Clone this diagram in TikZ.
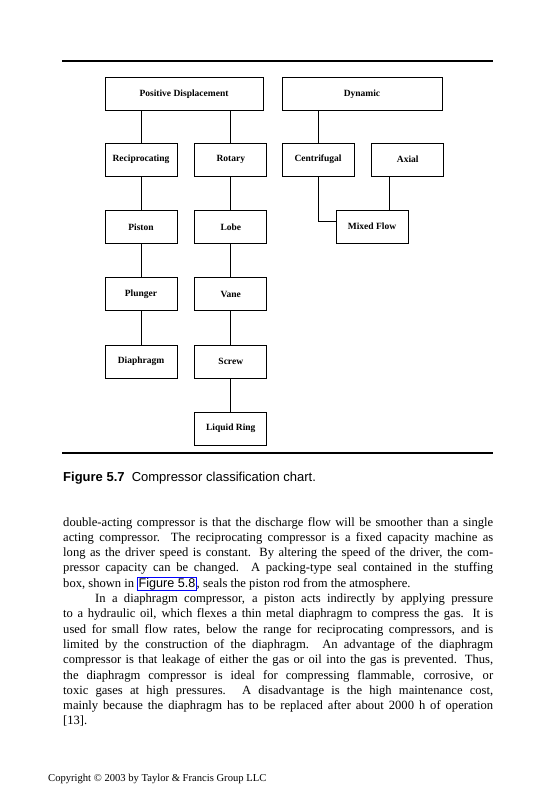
\documentclass[tikz,border=0pt]{standalone}
\usepackage{fontspec}
\setmainfont{Liberation Serif}
\setsansfont{Liberation Sans}
\usepackage{tikz}
\usetikzlibrary{positioning,calc}

\begin{document}
\begin{tikzpicture}[
    x=1pt, y=-1pt,
    node distance=33.5pt and 17pt,
    box/.style={draw, line width=0.8pt, minimum width=72pt, minimum height=33pt, inner sep=0pt, font=\bfseries\fontsize{9.5}{11}\selectfont},
    wide/.style={box, minimum width=158pt},
    link/.style={line width=0.9pt},
    rule/.style={line width=2pt}
]
\useasboundingbox (0,0) rectangle (558,800);
\draw[rule] (62,61) -- (493,61);
\draw[rule] (62,453) -- (493,453);
\node[wide] (pd) at (184,94) {Positive Displacement};
\node[wide, minimum width=160pt] (dyn) at (362,94) {Dynamic};
\node[box] (recip) at (141,159.5) {Reciprocating};
\node[box, right=of recip] (rotary) {Rotary};
\node[box] (centri) at (318,159.5) {Centrifugal};
\node[box, right=of centri] (axial) {Axial};
\node[box, below=of recip] (piston) {Piston};
\node[box, below=of piston] (plunger) {Plunger};
\node[box, below=of plunger] (diaphragm) {Diaphragm};
\node[box, below=of rotary] (lobe) {Lobe};
\node[box, below=of lobe] (vane) {Vane};
\node[box, below=of vane] (screw) {Screw};
\node[box, below=of screw] (liquid) {Liquid Ring};
\node[box] (mixed) at (372,226.5) {Mixed Flow};
\coordinate (axtap) at ([xshift=18pt]axial.south west);
\draw[link] (pd.south -| recip) -- (recip.north);
\draw[link] (pd.south -| rotary) -- (rotary.north);
\draw[link] (dyn.south -| centri) -- (centri.north);
\draw[link] (recip) -- (piston);
\draw[link] (piston) -- (plunger);
\draw[link] (plunger) -- (diaphragm);
\draw[link] (rotary) -- (lobe);
\draw[link] (lobe) -- (vane);
\draw[link] (vane) -- (screw);
\draw[link] (screw) -- (liquid);
\draw[link] (centri) |- ([yshift=5pt]mixed.west);
\draw[link] (axtap) -- (axtap |- mixed.north);
% caption and running text
\node[anchor=base west, inner sep=0pt, font=\sffamily\fontsize{13}{15}\selectfont] (caption) at (63,481)
  {\textbf{Figure 5.7}\hspace{0.55em}Compressor classification chart.};
\node[anchor=base west, inner sep=0pt, text width=430pt, align=justify, font=\fontsize{12.6}{15.3}\selectfont] (body) at (63,526)
  {double-acting compressor is that the discharge flow will be smoother than a single\linebreak{}
  acting compressor. The reciprocating compressor is a fixed capacity machine as\linebreak{}
  long as the driver speed is constant. By altering the speed of the driver, the com-\linebreak{}
  pressor capacity can be changed. A packing-type seal contained in the stuffing\linebreak{}
  box, shown in {\setlength{\fboxsep}{0.5pt}\setlength{\fboxrule}{0.8pt}\fcolorbox{blue}{white}{\sffamily Figure 5.8}}, seals the piston rod from the atmosphere.\par
  \hspace*{32pt}In a diaphragm compressor, a piston acts indirectly by applying pressure\linebreak{}
  to a hydraulic oil, which flexes a thin metal diaphragm to compress the gas. It is\linebreak{}
  used for small flow rates, below the range for reciprocating compressors, and is\linebreak{}
  limited by the construction of the diaphragm. An advantage of the diaphragm\linebreak{}
  compressor is that leakage of either the gas or oil into the gas is prevented. Thus,\linebreak{}
  the diaphragm compressor is ideal for compressing flammable, corrosive, or\linebreak{}
  toxic gases at high pressures. A disadvantage is the high maintenance cost,\linebreak{}
  mainly because the diaphragm has to be replaced after about 2000 h of operation\linebreak{}
  {[13]}.};
\node[anchor=base west, inner sep=0pt, font=\fontsize{10.6}{12}\selectfont] (copy) at (48,781)
  {Copyright \textcopyright{} 2003 by Taylor \& Francis Group LLC};
\end{tikzpicture}
\end{document}
